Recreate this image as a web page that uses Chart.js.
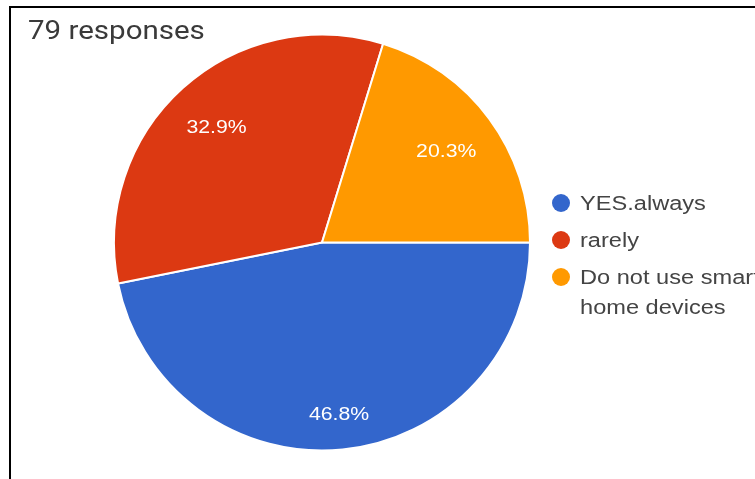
<!DOCTYPE html>
<html>
<head>
<meta charset="utf-8">
<script src="https://cdn.jsdelivr.net/npm/chart.js@4/dist/chart.umd.min.js"></script>
<style>
  html, body { margin: 0; padding: 0; background: #fff; width: 755px; height: 479px; overflow: hidden; }
  #wrap { position: absolute; left: 0; top: 0; width: 755px; height: 479px; }
  #frame { position: absolute; left: 9px; top: 6px; width: 760px; height: 480px;
           border-top: 2px solid #000; border-left: 2px solid #000; pointer-events: none; }
</style>
</head>
<body>
<div id="wrap"><canvas id="c" width="755" height="479"></canvas></div>
<div id="frame"></div>
<script>
const title = '79 responses';
const categories = ['YES.always', 'rarely', 'Do not use smart home devices'];
const responses = [37, 26, 16];
const colors = ['#3366cc', '#dc3912', '#ff9900'];

const FONT = '"Liberation Sans", Arial, sans-serif';
const STRETCH = 1.18; // text is drawn slightly wide

function wideText(ctx, text, x, y, align) {
  ctx.save();
  ctx.translate(x, y);
  ctx.scale(STRETCH, 1);
  ctx.textAlign = align;
  ctx.fillText(text, 0, 0);
  ctx.restore();
}

// Title, slice percentages and the wrapped legend on the right
const decorations = {
  id: 'decorations',
  afterDatasetsDraw(chart) {
    const ctx = chart.ctx;
    const meta = chart.getDatasetMeta(0);
    const data = chart.data.datasets[0].data;
    const total = data.reduce((a, b) => a + b, 0);

    ctx.save();
    // percentage labels inside the slices
    ctx.font = '18px ' + FONT;
    ctx.fillStyle = '#ffffff';
    ctx.textBaseline = 'alphabetic';
    meta.data.forEach((arc, i) => {
      const text = (data[i] / total * 100).toFixed(1) + '%';
      const mid = (arc.startAngle + arc.endAngle) / 2;
      const dx = Math.cos(mid), dy = Math.sin(mid);
      const hw = ctx.measureText(text).width * STRETCH / 2, hh = 9;
      const extent = hw * Math.abs(dx) + hh * Math.abs(dy);
      const dist = arc.outerRadius - extent - 24;
      wideText(ctx, text, arc.x + dx * dist, arc.y + dy * dist + 6.5, 'center');
    });

    // title
    ctx.font = '25px Roboto, ' + FONT;
    ctx.fillStyle = '#3a3a3a';
    wideText(ctx, title, 28, 39, 'left');

    // legend
    ctx.font = '20px ' + FONT;
    let y = 203;
    const cx = 561, tx = 580, maxW = 210;
    chart.data.labels.forEach((label, i) => {
      ctx.beginPath();
      ctx.arc(cx, y, 9, 0, Math.PI * 2);
      ctx.fillStyle = colors[i];
      ctx.fill();
      ctx.fillStyle = '#444';
      // wrap long labels onto a second line
      const words = label.split(' ');
      const lines = [];
      let line = '';
      words.forEach(w => {
        const test = line ? line + ' ' + w : w;
        if (ctx.measureText(test).width * STRETCH > maxW && line && lines.length === 0) {
          lines.push(line);
          line = w;
        } else {
          line = test;
        }
      });
      lines.push(line);
      lines.forEach((l, k) => wideText(ctx, l, tx, y + 7 + k * 30, 'left'));
      y += 37 + (lines.length - 1) * 30;
    });
    ctx.restore();
  }
};

new Chart(document.getElementById('c'), {
  type: 'pie',
  data: {
    labels: categories,
    datasets: [{
      data: responses,
      backgroundColor: colors,
      borderColor: '#ffffff',
      borderWidth: 2
    }]
  },
  options: {
    responsive: false,
    animation: false,
    rotation: 90,
    layout: { padding: { left: 113, right: 224, top: 33, bottom: 27 } },
    plugins: {
      legend: { display: false },
      tooltip: { enabled: false },
      title: { display: false }
    }
  },
  plugins: [decorations]
});
</script>
</body>
</html>
